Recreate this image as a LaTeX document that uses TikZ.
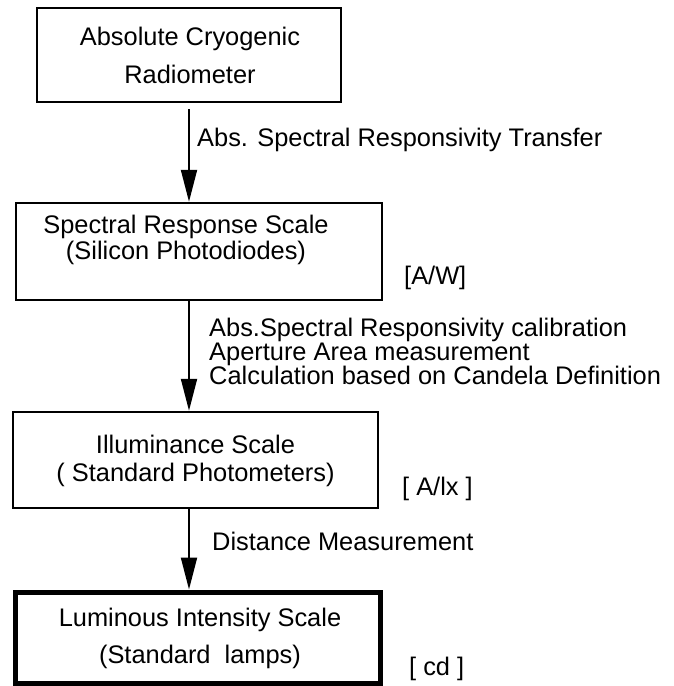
\documentclass[tikz,border=0pt]{standalone}
\usepackage{fontspec}
\setmainfont{Liberation Sans}
\usetikzlibrary{arrows.meta}
\setlength{\lineskiplimit}{-30pt}
\tikzset{
  stage/.style={draw, rectangle, line width=2.5pt, inner sep=0pt},
  caption/.style={inner sep=0pt, align=center,
    font={\fontsize{25.4}{#1}\selectfont}},
  caption/.default=30,
  flow/.style={line width=2pt, -{Triangle[length=32pt,width=16pt]}}
}

\begin{document}
\begin{tikzpicture}[x=1pt,y=-1pt]
    \useasboundingbox (0,0) rectangle (674,686);
    \coordinate (axis) at (189,0);

    % the four stages
    \node[stage, minimum width=304pt, minimum height=94pt] (acr) at (189,55) {};
    \node[stage, minimum width=366pt, minimum height=97pt] (srs) at (199,251.5) {};
    \node[stage, minimum width=365pt, minimum height=96pt] (ill) at (195.5,460) {};
    \node[stage, line width=5pt, minimum width=365pt, minimum height=91pt] (lum) at (197.5,637.5) {};

    \node[caption=38, anchor=north] (acrtext) at (190,27) {Absolute Cryogenic\\Radiometer};
    \node[caption=26, anchor=north] (srstext) at (186,215) {Spectral Response Scale\\(Silicon Photodiodes)};
    \node[caption=28, anchor=north] (illtext) at (195.5,435) {Illuminance Scale\\( Standard Photometers)};
    \node[caption=37, anchor=north] (lumtext) at (200,608) {Luminous Intensity Scale\\(Standard\ \ lamps)};

    % units
    \node[caption, anchor=north west] (aw) at (404,266) {[A/W]};
    \node[caption, anchor=north west] (alx) at (402,477) {[ A/lx ]};
    \node[caption, anchor=north west] (cd) at (409,657) {[ cd ]};

    % transfers
    \draw[flow] ([yshift=-6pt]axis |- acr.south) -- (axis |- srs.north);
    \node[caption, anchor=north west] (transfer) at (197,128) {Abs. Spectral Responsivity Transfer};
    \draw[flow] (axis |- srs.south) -- (axis |- ill.north);
    \node[caption=23.8, anchor=north west, align=left] (calib) at (209,318)
      {Abs.Spectral Responsivity calibration\\Aperture Area measurement\\Calculation based on Candela Definition};
    \draw[flow] (axis |- ill.south) -- (axis |- lum.north);
    \node[caption, anchor=north west] (dist) at (212,532) {Distance Measurement};
\end{tikzpicture}
\end{document}
